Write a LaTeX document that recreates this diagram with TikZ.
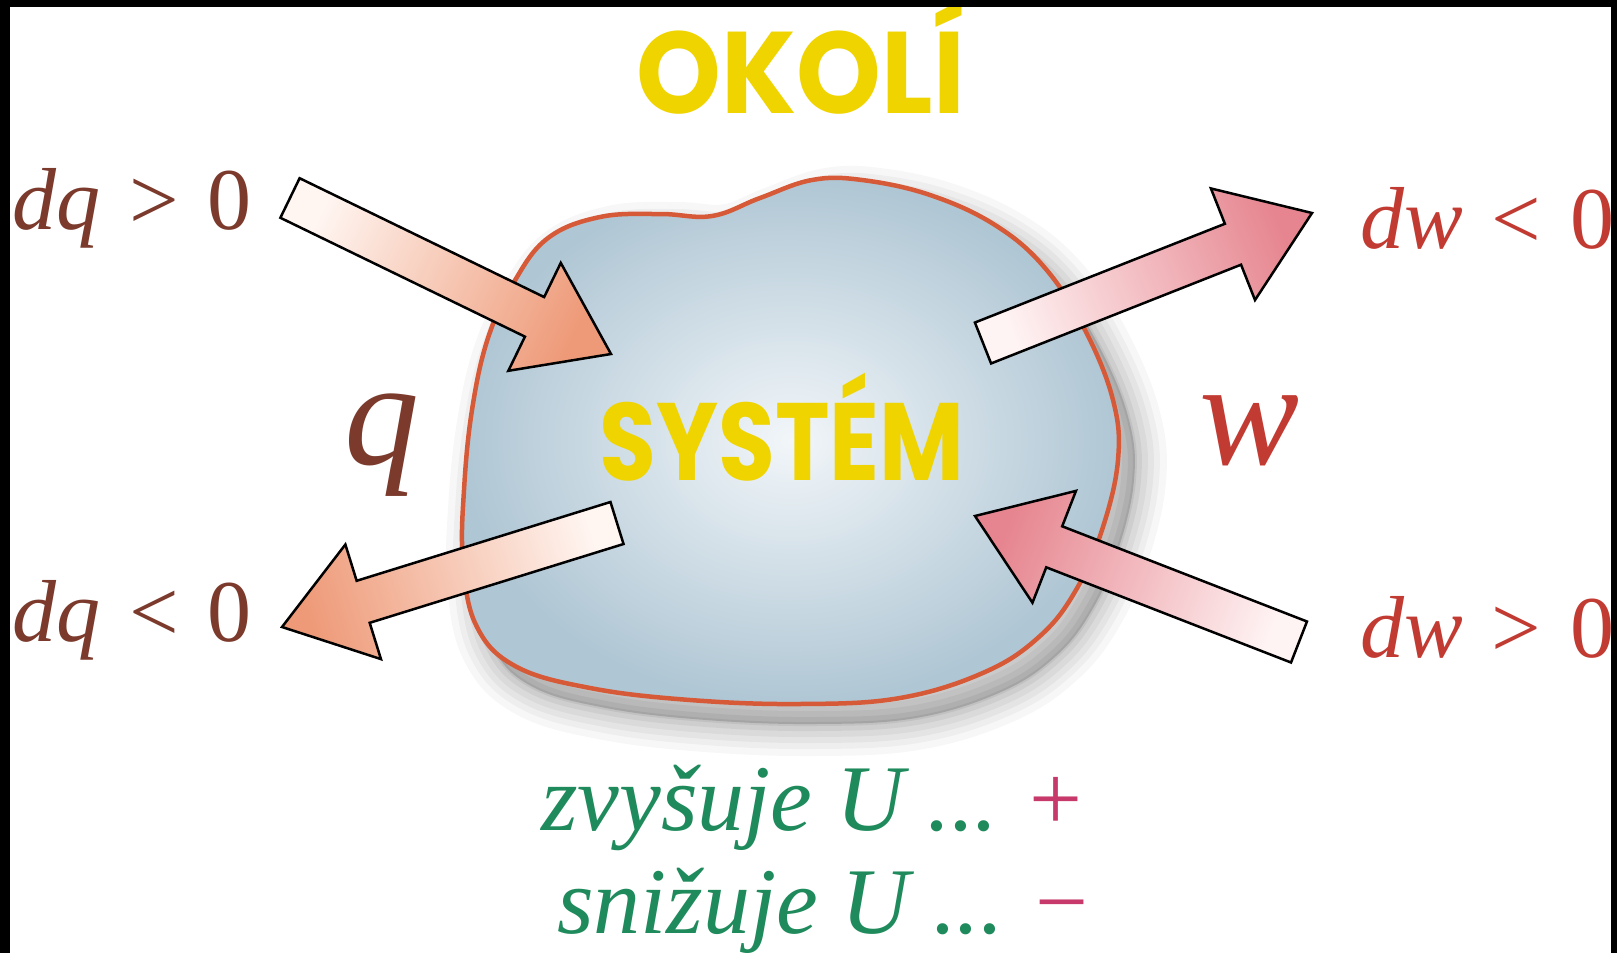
\documentclass[tikz,border=0pt]{standalone}
\usepackage{fontspec}
\setmainfont{Liberation Serif}
\newfontfamily\headfont{Poppins}
\usetikzlibrary{calc}
\definecolor{qbrown}{HTML}{7B3A2C}
\definecolor{wred}{HTML}{C23B32}
\definecolor{ugreen}{HTML}{1F8A5B}
\definecolor{pmcol}{HTML}{C8396B}
\definecolor{okyellow}{HTML}{EFD400}
\definecolor{blobline}{HTML}{D65A38}
\definecolor{blobin}{HTML}{F2F6F9}
\definecolor{blobout}{HTML}{AFC6D4}
\definecolor{peachhead}{HTML}{EE9A78}
\definecolor{peachtail}{HTML}{FFF6F2}
\definecolor{pinkhead}{HTML}{E6858F}
\definecolor{pinktail}{HTML}{FFF4F4}
\tikzset{
  arrowbox/.style={draw=black, line width=2.5pt, line join=miter},
  blobshape/.style={draw=blobline, line width=4.5pt, inner color=blobin, outer color=blobout},
  qlab/.style={text=qbrown, font=\fontsize{88}{100}\selectfont, anchor=base west, inner sep=0pt},
  wlab/.style={text=wred, font=\fontsize{88}{100}\selectfont, anchor=base west, inner sep=0pt},
  biglab/.style={font=\fontsize{150}{180}\selectfont\itshape, anchor=base, inner sep=0pt},
  headlab/.style={text=okyellow, font=\headfont\bfseries\fontsize{116}{130}\selectfont, anchor=base, inner sep=0pt},
  ulab/.style={text=ugreen, font=\fontsize{94}{110}\selectfont\itshape, anchor=base west, inner sep=0pt},
}
\newcommand{\blockarr}[6]{%
  \coordinate (#6) at ($(#2)!85pt!(#1)$);
  \shadedraw[arrowbox, left color=#3, right color=#4, shading angle=#5]
    ($(#1)!22pt!90:(#2)$) -- ($(#6)!22pt!90:(#2)$) -- ($(#6)!60pt!90:(#2)$) -- (#2)
    -- ($(#6)!60pt!-90:(#2)$) -- ($(#6)!22pt!-90:(#2)$) -- ($(#1)!22pt!-90:(#2)$) -- cycle;
}
\begin{document}
\begin{tikzpicture}[x=1pt,y=-1pt]
\useasboundingbox (0,0) rectangle (1617,953);
\fill[white] (0,0) rectangle (1617,953);
\def\blobpath{plot[smooth cycle, tension=0.65] coordinates {
 (514,282) (548,238) (600,217) (660,214) (712,216) (760,198) (812,180) (862,180)
 (930,195) (995,225) (1045,268) (1085,330) (1113,400) (1118,460) (1102,530)
 (1076,590) (1040,636) (985,672) (900,698) (800,704) (690,700) (590,688)
 (515,666) (476,625) (463,560) (464,490) (472,410) (488,338)}}
% soft shadow
\foreach \w/\o in {64/0.03,50/0.035,38/0.04,26/0.045,14/0.05,4/0.06}{
  \filldraw[black, fill opacity=0.0, draw opacity=\o, line width=\w pt, shift={(16,20)}] \blobpath;
}
\fill[black, opacity=0.15, shift={(16,20)}] \blobpath;
% system blob
\shadedraw[blobshape] \blobpath;
% arrows
\coordinate (Atail) at (290,198); \coordinate (Atip) at (611,354);
\coordinate (Btail) at (617,523); \coordinate (Btip) at (282,627);
\coordinate (Ctail) at (983,343); \coordinate (Ctip) at (1312,213);
\coordinate (Dtail) at (1299,642); \coordinate (Dtip) at (975,516);
\blockarr{Atail}{Atip}{peachtail}{peachhead}{64}{Abase}
\blockarr{Btail}{Btip}{peachtail}{peachhead}{-73}{Bbase}
\blockarr{Ctail}{Ctip}{pinktail}{pinkhead}{112}{Cbase}
\blockarr{Dtail}{Dtip}{pinktail}{pinkhead}{249}{Dbase}
% texts
\node[headlab] (okoli) at (801,113) {\scalebox{0.93}[1]{OKOLÍ}};
\node[headlab, font=\headfont\bfseries\fontsize{110}{124}\selectfont] (system) at (782,480) {\scalebox{0.84}[1]{SYSTÉM}};
\node[qlab] (dqpos) at (12,229) {\textit{dq}\hspace{0.33em}>\hspace{0.33em}0};
\node[qlab] (dqneg) at (12,641) {\textit{dq}\hspace{0.33em}<\hspace{0.33em}0};
\node[wlab] (dwneg) at (1360,248) {\textit{dw}\hspace{0.33em}<\hspace{0.33em}0};
\node[wlab] (dwpos) at (1360,657) {\textit{dw}\hspace{0.33em}>\hspace{0.33em}0};
\node[biglab, text=qbrown] (q) at (382,464) {q};
\node[biglab, text=wred] (w) at (1250,464) {w};
\node[ulab] (zvy) at (541,830) {zvyšuje U ... {\upshape\color{pmcol}+}};
\node[ulab] (sni) at (557,933) {snižuje U ... {\upshape\color{pmcol}−}};
% black frame
\fill[black] (0,0) rectangle (1617,7);
\fill[black] (0,0) rectangle (10,953);
\fill[black] (1611,0) rectangle (1617,953);
\end{tikzpicture}
\end{document}
